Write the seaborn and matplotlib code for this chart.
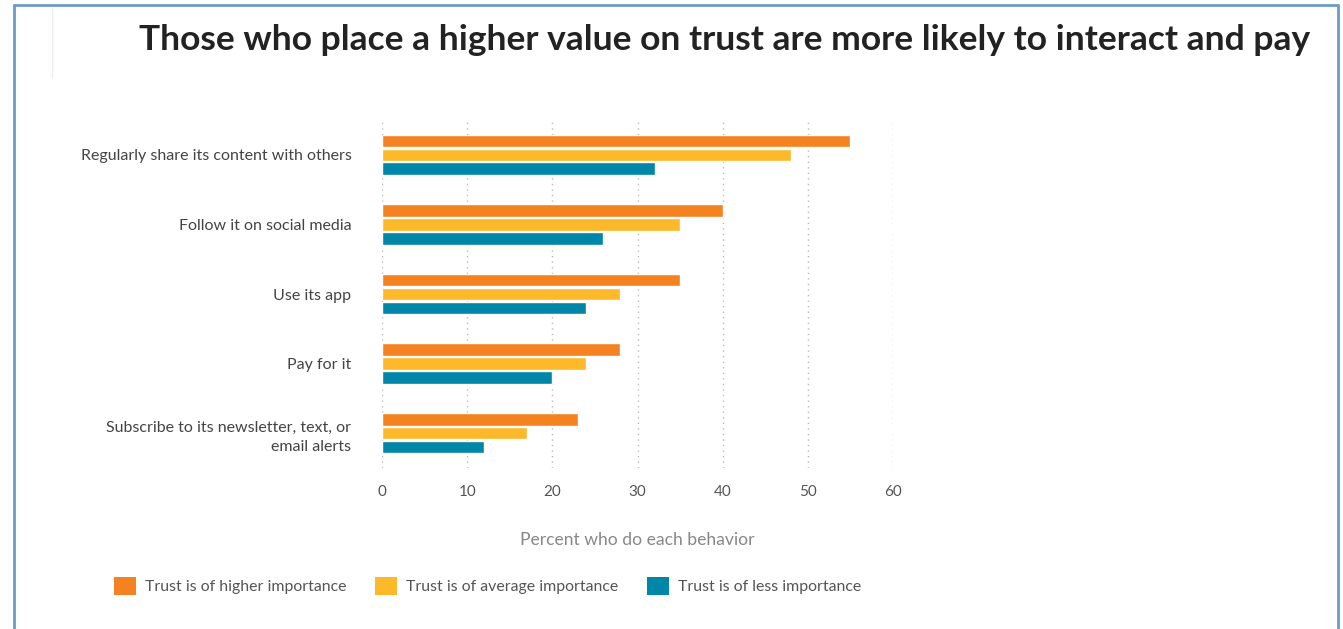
import numpy as np
import pandas as pd
import matplotlib
matplotlib.use("Agg")
import matplotlib.pyplot as plt
from matplotlib.lines import Line2D
from matplotlib.patches import Patch
import seaborn as sns

# Behaviours and share of respondents per trust group
behaviors = [
    "Regularly share its content with others",
    "Follow it on social media",
    "Use its app",
    "Pay for it",
    "Subscribe to its newsletter, text, or\nemail alerts",
]
groups = [
    "Trust is of higher importance",
    "Trust is of average importance",
    "Trust is of less importance",
]
higher = [55, 40, 35, 28, 23]
average = [48, 35, 28, 24, 17]
less = [32, 26, 24, 20, 12]
x_ticks = [0, 10, 20, 30, 40, 50, 60]

colors = ["#F58220", "#FDB92A", "#0087A8"]

df = pd.DataFrame({
    "behavior": behaviors * 3,
    "percent": higher + average + less,
    "group": [g for g in groups for _ in behaviors],
})

sns.set_theme(style="white")
plt.rcParams["font.family"] = ["Lato", "DejaVu Sans"]

W, H = 1343, 629
fig = plt.figure(figsize=(W / 100, H / 100), dpi=100)
ax = fig.add_axes([382 / W, 1 - 468 / H, (893 - 382) / W, (468 - 120) / H])

sns.barplot(
    data=df, y="behavior", x="percent", hue="group",
    order=behaviors, hue_order=groups, palette=colors,
    orient="h", width=0.6, gap=0.1, ax=ax, legend=False,
    saturation=1,
)

ax.set_xlim(0, 60)
ax.set_ylim(4.5, -0.5)
ax.set_xticks(x_ticks)
ax.set_xticklabels([str(t) for t in x_ticks])
for sp in ax.spines.values():
    sp.set_visible(False)
ax.grid(False)
for t in x_ticks:
    ax.axvline(t, color="#BBBBBB", linestyle=(0, (1, 3)), linewidth=1.0, zorder=0)

ax.tick_params(axis="y", length=0, pad=22, labelsize=11.5, labelcolor="#444444")
ax.tick_params(axis="x", length=0, pad=12, labelsize=11, labelcolor="#555555")
for lbl in ax.get_yticklabels():
    lbl.set_linespacing(1.5)
ax.set_ylabel("")
ax.set_xlabel("Percent who do each behavior", fontsize=12.6, color="#888888",
              labelpad=24)

handles = [Patch(facecolor=c, edgecolor="none") for c in colors]
fig.legend(handles, groups, loc="center left",
           bbox_to_anchor=(100 / W, 1 - 586 / H), ncol=3, frameon=False,
           fontsize=11.4, labelcolor="#555555", handlelength=1.4,
           handleheight=1.3, handletextpad=0.55, columnspacing=1.8)

fig.text(139 / W, 1 - 40 / H,
         "Those who place a higher value on trust are more likely to interact and pay",
         ha="left", va="center", fontsize=25.5, fontweight="bold", color="#222222")

# Page frame
frame_c = "#6A9CC8"
fig.add_artist(Line2D([14 / W, 14 / W], [0, 1 - 5 / H], color=frame_c, lw=2,
                      transform=fig.transFigure))
fig.add_artist(Line2D([1338 / W, 1338 / W], [0, 1 - 5 / H], color=frame_c, lw=2,
                      transform=fig.transFigure))
fig.add_artist(Line2D([14 / W, 1338 / W], [1 - 5 / H, 1 - 5 / H], color=frame_c, lw=2,
                      transform=fig.transFigure))
fig.add_artist(Line2D([52 / W, 52 / W], [1 - 8 / H, 1 - 78 / H], color="#EEEEEE", lw=1,
                      transform=fig.transFigure))

fig.savefig("out.png", dpi=100)
